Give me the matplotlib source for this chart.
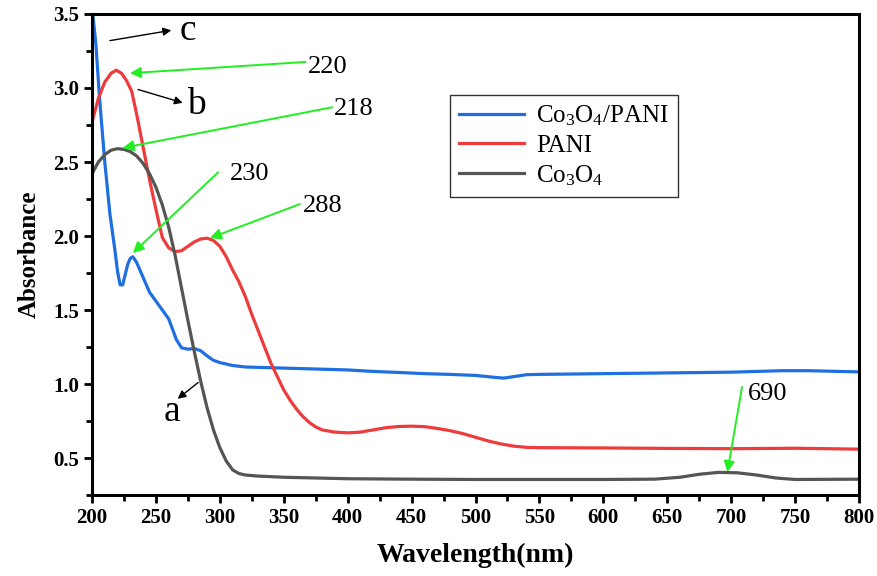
import matplotlib
matplotlib.use("Agg")
import matplotlib.pyplot as plt
from matplotlib.ticker import MultipleLocator

plt.rcParams['font.family'] = ['Liberation Serif', 'DejaVu Serif']
plt.rcParams['mathtext.fontset'] = 'custom'
plt.rcParams['mathtext.rm'] = 'Liberation Serif'
plt.rcParams['mathtext.it'] = 'Liberation Serif:italic'
plt.rcParams['mathtext.bf'] = 'Liberation Serif:bold'

# Co3O4/PANI
wl_blue = [200, 203, 206, 210, 214, 218, 220, 222, 224, 226, 228, 230, 232, 235, 240, 245, 250, 255,
           260, 263, 266, 270, 275, 280, 285, 290, 295, 300, 310, 320, 340, 360, 380, 400, 420, 440,
           460, 480, 500, 515, 522, 530, 540, 550, 600, 650, 700, 740, 760, 800]
ab_blue = [3.55, 3.30, 2.92, 2.50, 2.15, 1.90, 1.76, 1.67, 1.67, 1.74, 1.81, 1.85, 1.86, 1.82, 1.72, 1.62, 1.56, 1.50,
           1.44, 1.37, 1.30, 1.245, 1.235, 1.24, 1.225, 1.19, 1.16, 1.145, 1.125, 1.115, 1.11, 1.105, 1.10, 1.095, 1.085, 1.078,
           1.07, 1.065, 1.058, 1.045, 1.04, 1.05, 1.063, 1.065, 1.07, 1.075, 1.08, 1.09, 1.09, 1.082]

# PANI
wl_red = [200, 205, 210, 215, 219, 223, 227, 231, 235, 240, 245, 250, 255, 260, 265, 270, 275, 280, 285, 290,
          295, 300, 305, 310, 315, 320, 325, 330, 335, 340, 345, 350, 355, 360, 365, 370, 375, 380, 390, 400,
          410, 420, 430, 440, 450, 460, 470, 480, 490, 500, 510, 520, 530, 540, 550, 600, 650, 700, 750, 800]
ab_red = [2.77, 2.93, 3.04, 3.10, 3.12, 3.10, 3.05, 2.98, 2.82, 2.60, 2.38, 2.18, 1.99, 1.92, 1.895, 1.90, 1.93, 1.96, 1.98, 1.985,
          1.97, 1.93, 1.86, 1.77, 1.69, 1.59, 1.47, 1.36, 1.25, 1.14, 1.05, 0.96, 0.89, 0.83, 0.78, 0.74, 0.71, 0.69, 0.675, 0.67,
          0.675, 0.69, 0.705, 0.713, 0.715, 0.712, 0.70, 0.685, 0.665, 0.64, 0.615, 0.595, 0.58, 0.572, 0.57, 0.568, 0.565, 0.563, 0.566, 0.56]

# Co3O4
wl_grey = [200, 205, 210, 215, 220, 225, 230, 235, 240, 245, 250, 255, 260, 265, 270, 275, 280, 285, 290, 295,
           300, 305, 310, 315, 320, 330, 350, 400, 450, 500, 550, 600, 640, 660, 675, 690, 705, 720, 735, 750, 800]
ab_grey = [2.42, 2.50, 2.55, 2.58, 2.59, 2.585, 2.57, 2.54, 2.49, 2.42, 2.33, 2.21, 2.06, 1.87, 1.65, 1.43, 1.22, 1.02, 0.84, 0.69,
           0.57, 0.48, 0.42, 0.395, 0.385, 0.378, 0.37, 0.36, 0.357, 0.355, 0.355, 0.355, 0.357, 0.37, 0.39, 0.403, 0.40, 0.385, 0.365, 0.355, 0.357]

labels = [r'$\mathrm{Co_3O_4}$/PANI', 'PANI', r'$\mathrm{Co_3O_4}$']
colors = ['#1f6fe0', '#ee3b3b', '#555555']

# green peak annotations: (text, text_xy, arrow_tail, arrow_head)
peak_text = ['220', '218', '230', '288', '690']
peak_text_xy = [(369, 3.14), (389, 2.86), (308, 2.42), (365, 2.20), (713, 0.93)]
peak_tail = [(367, 3.176), (388, 2.87), (298.6, 2.43), (362.7, 2.216), (708.5, 0.98)]
peak_head = [(229.7, 3.10), (224, 2.595), (232, 1.885), (292.3, 1.986), (697, 0.405)]

# black letter annotations
letter_text = ['c', 'b', 'a']
letter_xy = [(275, 3.39), (282, 2.885), (262.6, 0.81)]
letter_tail = [(214, 3.32), (236, 2.99), (283, 1.01)]
letter_head = [(262, 3.39), (271, 2.90), (267, 0.90)]

fig = plt.figure(figsize=(8.77, 5.76), dpi=100)
ax = fig.add_axes([0.1049, 0.1406, 0.8746, 0.8351])

ax.plot(wl_blue, ab_blue, color=colors[0], lw=2.3, label=labels[0])
ax.plot(wl_red, ab_red, color=colors[1], lw=2.3, label=labels[1])
ax.plot(wl_grey, ab_grey, color=colors[2], lw=2.3, label=labels[2])

ax.set_xlim(200, 800)
ax.set_ylim(0.25, 3.5)
ax.xaxis.set_major_locator(MultipleLocator(50))
ax.xaxis.set_minor_locator(MultipleLocator(25))
ax.yaxis.set_minor_locator(MultipleLocator(0.25))
ax.set_yticks([0.5, 1.0, 1.5, 2.0, 2.5, 3.0, 3.5])
ax.set_yticklabels(['0.5', '1.0', '1.5', '2.0', '2.5', '3.0', '3.5'])

for s in ax.spines.values():
    s.set_linewidth(2.2)
ax.tick_params(which='major', direction='out', length=6, width=2, labelsize=15, pad=3)
ax.tick_params(which='minor', direction='out', length=4, width=2)
for lab in ax.get_xticklabels() + ax.get_yticklabels():
    lab.set_fontweight('bold')

ax.set_xlabel('Wavelength(nm)', fontsize=20, fontweight='bold', labelpad=11)
ax.set_ylabel('Absorbance', fontsize=18, fontweight='bold', labelpad=9)

for t, txy, tail, head in zip(peak_text, peak_text_xy, peak_tail, peak_head):
    ax.annotate('', xy=head, xytext=tail,
                arrowprops=dict(arrowstyle='-|>', color='#22ee22', lw=1.4, mutation_scale=16,
                                shrinkA=0, shrinkB=0))
    ax.text(txy[0], txy[1], t, fontsize=19, ha='left', va='center')

for t, txy, tail, head in zip(letter_text, letter_xy, letter_tail, letter_head):
    ax.annotate('', xy=head, xytext=tail,
                arrowprops=dict(arrowstyle='-|>', color='black', lw=1.0, mutation_scale=12,
                                shrinkA=0, shrinkB=0))
    ax.text(txy[0], txy[1], t, fontsize=27, ha='center', va='center')

leg = ax.legend(loc='upper left', bbox_to_anchor=(0.467, 0.832), borderaxespad=0,
                fontsize=18, frameon=True, fancybox=False, handlelength=2.6,
                labelspacing=0.25, borderpad=0.35, handletextpad=0.5)
leg.get_frame().set_edgecolor('black')
leg.get_frame().set_linewidth(1.0)

fig.savefig('out.png', dpi=100)
